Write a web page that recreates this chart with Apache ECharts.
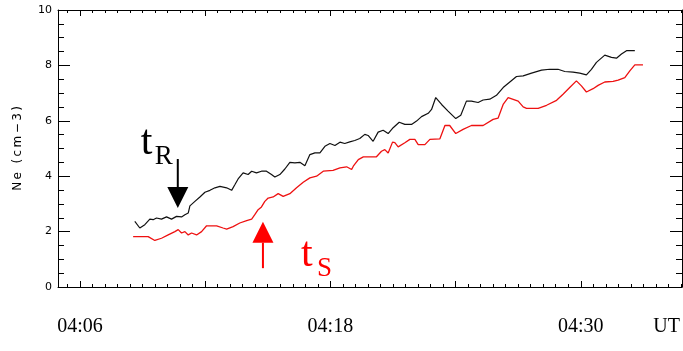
<!DOCTYPE html>
<html>
<head>
<meta charset="utf-8">
<script src="https://cdn.jsdelivr.net/npm/echarts@6/dist/echarts.min.js"></script>
<style>
  html, body { margin: 0; padding: 0; background: #fff; }
  #chart { width: 683px; height: 351px; }
</style>
</head>
<body>
<div id="chart"></div>
<script>
// Time is in minutes after 04:00 UT.
const axisStart = 4.95;
const axisEnd = 34.85;
const majorTickMinutes = [6, 12, 18, 24, 30];
const labelMinutes = [6, 18, 30];
const labelTexts = ['04:06', '04:18', '04:30'];
const neMin = 0;
const neMax = 10;
const neStep = 2;
// Axis title, letter-spaced with thin spaces
const neTitle = 'N\u2009e\u2009 \u2009(\u2009c\u2009m\u2009\u2212\u20093\u2009)';

// Electron density, upper (black) trace
const blackTime = [8.63, 8.87, 9.11, 9.35, 9.51, 9.67, 9.91, 10.15, 10.39, 10.63, 10.87, 11.03, 11.19, 11.27,
  11.51, 11.75, 11.99, 12.23, 12.47, 12.71, 13.03, 13.27, 13.43, 13.58, 13.82, 14.06, 14.23, 14.46, 14.70,
  14.94, 15.18, 15.34, 15.58, 15.82, 16.06, 16.30, 16.54, 16.78, 17.02, 17.26, 17.50, 17.74, 17.98, 18.22,
  18.46, 18.69, 18.93, 19.17, 19.41, 19.65, 19.81, 20.05, 20.29, 20.53, 20.77, 21.01, 21.30, 21.57, 21.89,
  22.13, 22.37, 22.69, 22.85, 23.05, 23.33, 23.64, 24.01, 24.25, 24.52, 24.76, 25.08, 25.32, 25.64, 25.96,
  26.28, 26.60, 26.92, 27.24, 27.64, 28.12, 28.51, 28.91, 29.23, 29.63, 29.95, 30.27, 30.51, 30.75, 31.15,
  31.47, 31.71, 31.95, 32.19, 32.59];
const blackNe = [2.37, 2.13, 2.25, 2.45, 2.43, 2.49, 2.45, 2.53, 2.45, 2.55, 2.53, 2.61, 2.67, 2.93,
  3.09, 3.25, 3.42, 3.49, 3.58, 3.63, 3.58, 3.49, 3.70, 3.90, 4.12, 4.06, 4.18, 4.12, 4.18,
  4.18, 4.06, 3.97, 4.06, 4.26, 4.50, 4.48, 4.50, 4.38, 4.78, 4.84, 4.84, 5.08, 5.18, 5.11,
  5.23, 5.18, 5.24, 5.29, 5.36, 5.51, 5.47, 5.26, 5.59, 5.66, 5.54, 5.75, 5.95, 5.87, 5.87,
  5.99, 6.15, 6.27, 6.41, 6.84, 6.59, 6.35, 6.08, 6.20, 6.71, 6.71, 6.66, 6.75, 6.78, 6.92,
  7.20, 7.40, 7.60, 7.62, 7.72, 7.83, 7.86, 7.86, 7.78, 7.76, 7.72, 7.66, 7.86, 8.11, 8.37,
  8.29, 8.26, 8.41, 8.53, 8.53];

// Electron density, lower (red) trace
const redTime = [8.55, 9.27, 9.59, 9.91, 10.23, 10.55, 10.71, 10.87, 11.03, 11.19, 11.35, 11.59, 11.83,
  12.07, 12.55, 12.86, 13.03, 13.34, 13.66, 13.99, 14.23, 14.38, 14.54, 14.70, 14.86, 15.02, 15.26, 15.50,
  15.74, 16.06, 16.38, 16.70, 17.02, 17.34, 17.66, 18.13, 18.46, 18.78, 19.02, 19.10, 19.34, 19.58, 20.21,
  20.45, 20.61, 20.77, 20.98, 21.09, 21.25, 21.57, 21.81, 22.05, 22.21, 22.53, 22.77, 23.25, 23.49, 23.72,
  24.01, 24.36, 24.76, 25.32, 25.80, 26.04, 26.28, 26.52, 27.00, 27.24, 27.40, 27.96, 28.36, 28.84, 29.15,
  29.47, 29.79, 30.03, 30.27, 30.59, 30.83, 31.15, 31.55, 31.79, 32.11, 32.35, 32.59, 32.98];
const redNe = [1.82, 1.82, 1.68, 1.76, 1.88, 2.00, 2.07, 1.95, 2.00, 1.88, 1.95, 1.88, 2.00,
  2.21, 2.21, 2.13, 2.09, 2.18, 2.31, 2.40, 2.45, 2.61, 2.79, 2.89, 3.09, 3.21, 3.25, 3.37,
  3.27, 3.37, 3.58, 3.78, 3.94, 4.00, 4.18, 4.21, 4.30, 4.34, 4.24, 4.36, 4.60, 4.70, 4.70,
  4.90, 4.96, 4.84, 5.23, 5.21, 5.06, 5.21, 5.33, 5.33, 5.14, 5.14, 5.33, 5.35, 5.83, 5.83,
  5.54, 5.69, 5.83, 5.83, 6.05, 6.10, 6.59, 6.84, 6.71, 6.50, 6.45, 6.45, 6.56, 6.74, 6.96,
  7.20, 7.44, 7.26, 7.04, 7.16, 7.28, 7.40, 7.42, 7.47, 7.56, 7.80, 8.02, 8.02];

// Onset markers: time, arrow tip and arrow tail (in Ne units)
const tRTime = 10.69, tRTip = 2.85, tRTail = 4.62;
const tSTime = 14.77, tSTip = 2.36, tSTail = 0.68;

// Minor ticks every 36 s
const minorTickMinutes = [];
for (let i = 9; i * 0.6 < axisEnd; i++) minorTickMinutes.push(+(i * 0.6).toFixed(2));

const pair = (xs, ys) => xs.map((x, i) => [x, ys[i]]);

const chart = echarts.init(document.getElementById('chart'), null, { renderer: 'canvas' });

function xAxisDef(position, ticks, len, withLine, withLabels) {
  return {
    type: 'value', position, min: axisStart, max: axisEnd,
    axisLine: { show: withLine, onZero: false, lineStyle: { color: '#000', width: 1 } },
    axisTick: { show: true, inside: true, length: len, customValues: ticks, lineStyle: { color: '#000', width: 1 } },
    axisLabel: withLabels ? {
      show: true, customValues: labelMinutes, margin: 30,
      fontFamily: 'Liberation Serif', fontSize: 20, color: '#000',
      formatter: v => labelTexts[labelMinutes.indexOf(v)]
    } : { show: false },
    splitLine: { show: false }
  };
}

function yAxisDef(position, withLabels) {
  return {
    type: 'value', position, min: neMin, max: neMax, interval: neStep,
    axisLine: { show: true, onZero: false, lineStyle: { color: '#000', width: 1 } },
    axisTick: { show: true, inside: true, length: 12, lineStyle: { color: '#000', width: 1 } },
    minorTick: { show: true, splitNumber: 4, length: 6, lineStyle: { color: '#000', width: 1 } },
    axisLabel: withLabels ? { show: true, margin: 6, fontFamily: 'DejaVu Sans', fontSize: 11, color: '#000' } : { show: false },
    splitLine: { show: false },
    minorSplitLine: { show: false },
    name: withLabels ? neTitle : '',
    nameLocation: 'middle', nameGap: 34,
    nameTextStyle: { fontFamily: 'DejaVu Sans', fontSize: 12, color: '#000' }
  };
}

chart.setOption({
  animation: false,
  backgroundColor: '#fff',
  grid: { left: 58, right: 1, top: 10, bottom: 64, outerBoundsMode: 'none' },
  xAxis: [
    xAxisDef('bottom', majorTickMinutes, 6, true, true),
    xAxisDef('bottom', minorTickMinutes, 3, false, false),
    xAxisDef('top', majorTickMinutes, 6, true, false),
    xAxisDef('top', minorTickMinutes, 3, false, false)
  ],
  yAxis: [yAxisDef('left', true), yAxisDef('right', false)],
  series: [
    {
      type: 'line', xAxisIndex: 0, yAxisIndex: 0, data: pair(blackTime, blackNe),
      showSymbol: false, lineStyle: { color: '#111', width: 1.2 }
    },
    {
      type: 'line', xAxisIndex: 0, yAxisIndex: 0, data: pair(redTime, redNe),
      showSymbol: false, lineStyle: { color: '#ee1111', width: 1.3 }
    }
  ]
});

// Onset arrows and labels, placed from data coordinates
const px = v => chart.convertToPixel({ xAxisIndex: 0, yAxisIndex: 0 }, v);

function arrow(time, tip, tail, color) {
  const pTip = px([time, tip]);
  const pTail = px([time, tail]);
  const dir = pTail[1] > pTip[1] ? 1 : -1;
  const headLen = 21, headHalf = 10.5;
  const base = pTip[1] + dir * headLen;
  return [
    { type: 'line', silent: true, shape: { x1: pTail[0], y1: pTail[1], x2: pTip[0], y2: base },
      style: { stroke: color, lineWidth: 2 } },
    { type: 'polygon', silent: true,
      shape: { points: [[pTip[0] - headHalf, base], [pTip[0] + headHalf, base], [pTip[0], pTip[1]]] },
      style: { fill: color } }
  ];
}

function label(x, baseline, text, size, color) {
  return {
    type: 'text', silent: true, x, y: baseline + 0.2 * size,
    style: { text, fill: color, font: size + 'px "Liberation Serif"', textAlign: 'left', textVerticalAlign: 'bottom' }
  };
}

const rTail = px([tRTime, tRTail]);
const sTail = px([tSTime, tSTail]);

chart.setOption({
  graphic: [
    ...arrow(tRTime, tRTip, tRTail, '#000'),
    ...arrow(tSTime, tSTip, tSTail, '#ff0000'),
    label(rTail[0] - 37, rTail[1] - 3, 't', 42, '#000'),
    label(rTail[0] - 23, rTail[1] + 6, 'R', 27, '#000'),
    label(sTail[0] + 38, sTail[1] - 1, 't', 42, '#ff0000'),
    label(sTail[0] + 54, sTail[1] + 9, 'S', 27, '#ff0000'),
    { type: 'text', silent: true, right: 3, top: 317,
      style: { text: 'UT', fill: '#000', font: '20px "Liberation Serif"' } }
  ]
});
</script>
</body>
</html>
